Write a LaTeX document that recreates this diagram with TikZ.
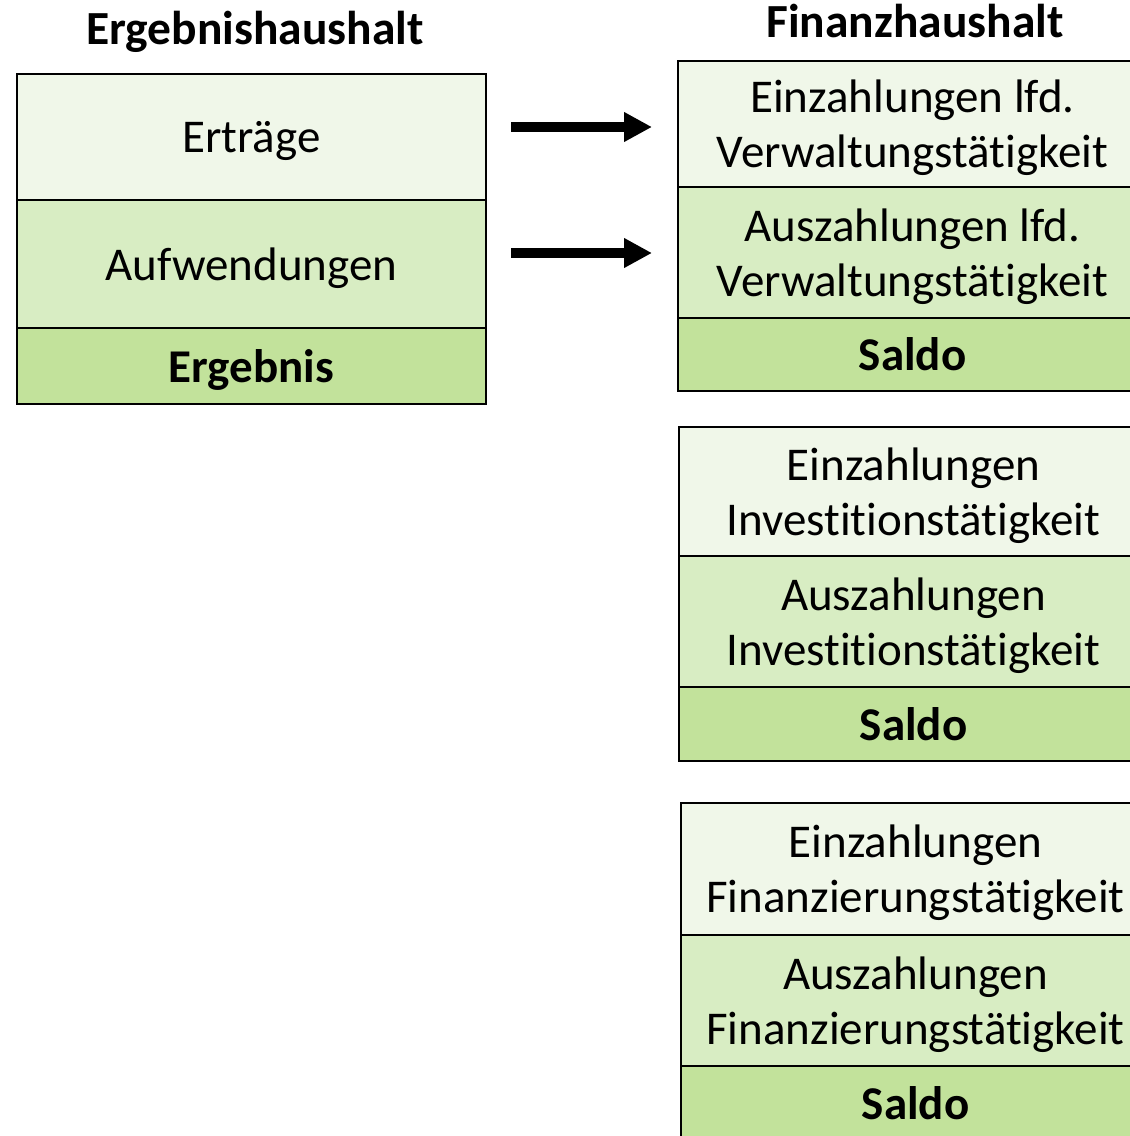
\documentclass[tikz,border=0pt]{standalone}
\usepackage{fontspec}
\setmainfont[Ligatures=NoCommon]{Carlito}
\usetikzlibrary{arrows.meta}
\definecolor{cA}{HTML}{F0F7E9}
\definecolor{cB}{HTML}{D8EDC3}
\definecolor{cC}{HTML}{C2E29B}
\tikzset{
  row/.style={draw=black, line width=2.4pt, inner sep=0pt, align=center, text depth=0pt,
    minimum width=469pt, font=\fontsize{47}{55}\selectfont},
  rowA/.style={row, fill=cA, text depth=-6pt},
  rowB/.style={row, fill=cB, text depth=-6pt},
  rowC/.style={row, fill=cC, font=\fontsize{47}{55}\selectfont\bfseries},
  title/.style={anchor=base, inner sep=0pt, font=\fontsize{47.5}{55}\selectfont\bfseries},
  arr/.style={line width=9.5pt, -{Triangle[length=28pt,width=28pt]}}
}
\begin{document}
\begin{tikzpicture}[x=1pt,y=-1pt]
\useasboundingbox (0,0) rectangle (1130,1136);
\node[title] (t1) at (255,44) {Ergebnishaushalt};
\node[title] (t2) at (915,37) {Finanzhaushalt};
% left
\node[rowA, minimum height=126pt] (l1) at (251.5,137) {Erträge};
\node[rowB, minimum height=128pt] (l2) at (251.5,264) {Aufwendungen};
\node[rowC, minimum height=76pt] (l3) at (251.5,366) {Ergebnis};
% right 1
\node[rowA, minimum height=126pt] (a1) at (912.5,124) {Einzahlungen lfd.\\Verwaltungstätigkeit};
\node[rowB, minimum height=131pt] (a2) at (912.5,252.5) {Auszahlungen lfd.\\Verwaltungstätigkeit};
\node[rowC, minimum height=73pt] (a3) at (912.5,354.5) {Saldo};
% right 2
\node[rowA, minimum height=129pt] (b1) at (913.5,491.5) {Einzahlungen\\Investitionstätigkeit};
\node[rowB, minimum height=131pt] (b2) at (913.5,621.5) {Auszahlungen\\Investitionstätigkeit};
\node[rowC, minimum height=74pt] (b3) at (913.5,724) {Saldo};
% right 3
\node[rowA, minimum height=132pt] (c1) at (915.5,869) {Einzahlungen\\Finanzierungstätigkeit};
\node[rowB, minimum height=131pt] (c2) at (915.5,1000.5) {Auszahlungen\\Finanzierungstätigkeit};
\node[rowC, minimum height=74pt] (c3) at (915.5,1103) {Saldo};
% arrows
\coordinate (s1) at (511,127);
\coordinate (e1) at (652,127);
\coordinate (s2) at (511,253);
\coordinate (e2) at (652,253);
\draw[arr] (s1) -- (e1);
\draw[arr] (s2) -- (e2);
\end{tikzpicture}
\end{document}
